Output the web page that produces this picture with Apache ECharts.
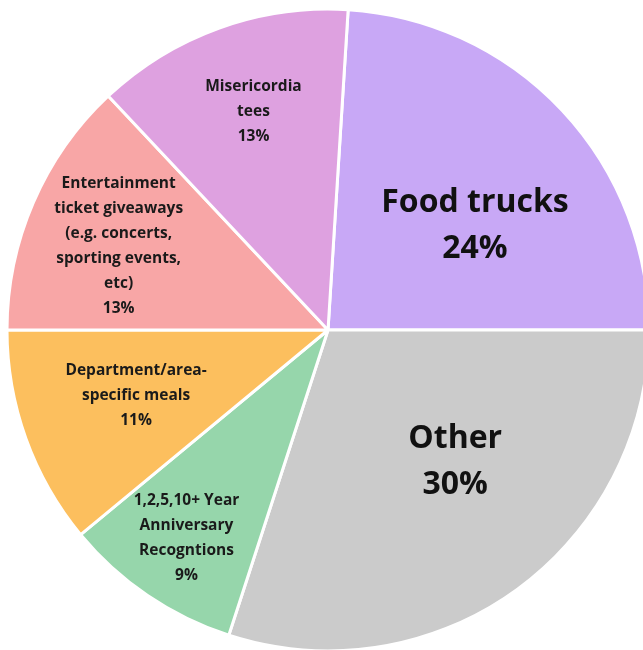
<!DOCTYPE html>
<html>
<head>
<meta charset="utf-8">
<script src="https://cdn.jsdelivr.net/npm/echarts@6/dist/echarts.min.js"></script>
<style>
html,body{margin:0;padding:0;background:#fff;}
#c{width:643px;height:650px;}
</style>
</head>
<body>
<div id="c"></div>
<script>
// Data
const categories = [
  'Food trucks',
  'Other',
  '1,2,5,10+ Year\nAnniversary\nRecogntions',
  'Department/area-\nspecific meals',
  'Entertainment\nticket giveaways\n(e.g. concerts,\nsporting events,\netc)',
  'Misericordia\ntees'
];
const values = [24, 30, 9, 11, 13, 13];

// Styles
const colors = ['#c8a8f6', '#cbcbcb', '#96d6ab', '#fcbf5e', '#f8a6a6', '#dea1e0'];
const bigLabel = [true, true, false, false, false, false];
// label placement: [fraction of radius, angular shift in degrees (clockwise)]
const labelPolar = [[0.55, 8], [0.56, -8], [0.77, 0], [0.62, 1], [0.69, -1.5], [0.707, 1]];
const CX = 328, CY = 330, R = 321;

const chart = echarts.init(document.getElementById('c'));
chart.setOption({
  backgroundColor: '#ffffff',
  animation: false,
  series: [{
    type: 'pie',
    center: [CX, CY],
    radius: [0, R],
    startAngle: 86.4,
    clockwise: true,
    avoidLabelOverlap: false,
    itemStyle: { borderColor: '#ffffff', borderWidth: 3 },
    label: {
      show: true,
      position: 'inside',
      formatter: '{b}\n{c}%',
      color: '#1a1a1a',
      fontFamily: 'Open Sans',
      fontWeight: 'bold',
      fontSize: 15.5,
      lineHeight: 25,
      align: 'center'
    },
    labelLine: { show: false },
    labelLayout: function (p) {
      const rect = p.labelRect;
      const cx = rect.x + rect.width / 2, cy = rect.y + rect.height / 2;
      const vx = cx - CX, vy = cy - CY;
      const lp = labelPolar[p.dataIndex];
      const k = lp[0] / 0.5;
      const a = lp[1] * Math.PI / 180;
      const rx = (vx * Math.cos(a) - vy * Math.sin(a)) * k;
      const ry = (vx * Math.sin(a) + vy * Math.cos(a)) * k;
      return { dx: CX + rx - cx, dy: CY + ry - cy };
    },
    data: categories.map((n, i) => ({
      name: n,
      value: values[i],
      itemStyle: { color: colors[i] },
      label: bigLabel[i] ? { fontSize: 32, lineHeight: 46, color: '#111111' } : {}
    }))
  }]
});
</script>
</body>
</html>
